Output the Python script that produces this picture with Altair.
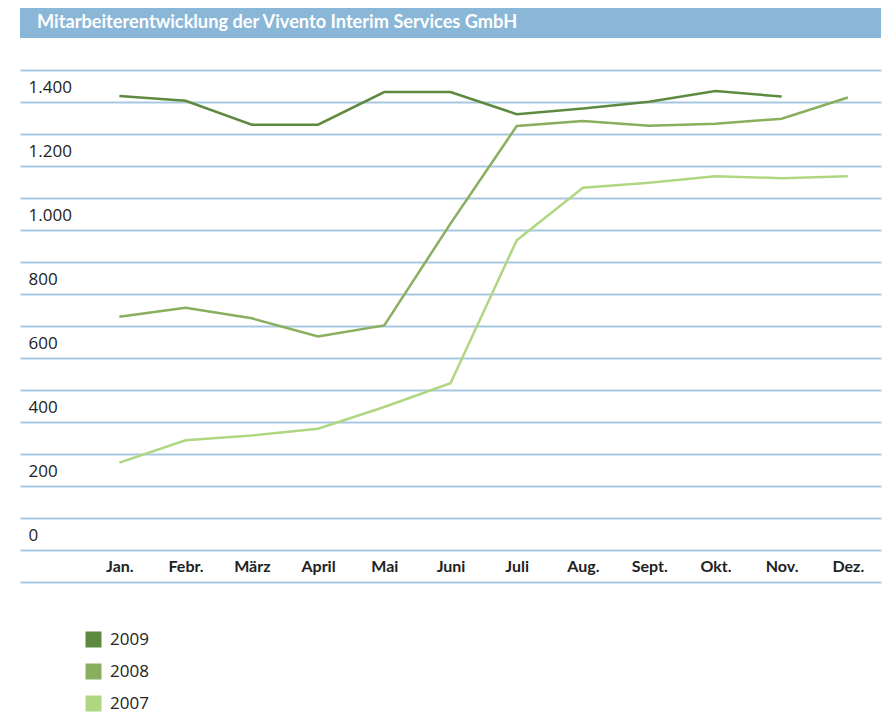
import altair as alt
import pandas as pd

title = "Mitarbeiterentwicklung der Vivento Interim Services GmbH"
months = ["Jan.", "Febr.", "März", "April", "Mai", "Juni", "Juli",
          "Aug.", "Sept.", "Okt.", "Nov.", "Dez."]
years = ["2009", "2008", "2007"]
v2009 = [1419, 1404, 1329, 1329, 1431, 1431, 1362, 1380, 1401, 1434, 1417, None]
v2008 = [729, 757, 724, 667, 702, 1020, 1325, 1341, 1326, 1332, 1348, 1414]
v2007 = [273, 343, 358, 379, 447, 521, 968, 1132, 1148, 1168, 1162, 1168]
colors = ["#5e8a3f", "#89ae5d", "#afd782"]
grid_values = list(range(-100, 1600, 100))

rows = []
for yr, vals in zip(years, [v2009, v2008, v2007]):
    for i, v in enumerate(vals):
        if v is not None:
            rows.append({"year": yr, "idx": i + 1, "month": months[i], "value": v})
df = pd.DataFrame(rows)
df_title = pd.DataFrame({"t": [title]})

W, H = 861, 512
xscale = alt.Scale(domain=[-0.5, len(months) + 0.5], nice=False, zero=False)
yscale = alt.Scale(domain=[-100, 1500], nice=False, zero=False)

y_label_expr = ("datum.value >= 0 && datum.value <= 1400 && datum.value % 200 == 0 ? "
                "replace(format(datum.value, ','), ',', '.') : ''")
month_array = "[" + ",".join("'" + m + "'" for m in months) + "]"
x_label_expr = month_array + "[round(datum.value) - 1]"

lines = alt.Chart(df).mark_line(strokeWidth=2.5).encode(
    x=alt.X("idx:Q", scale=xscale, axis=alt.Axis(
        values=list(range(1, len(months) + 1)), grid=False, labels=True, ticks=False,
        domain=False, title=None, labelExpr=x_label_expr, labelOverlap=False,
        labelPadding=-16, labelBaseline="middle", labelAlign="center",
        labelFont="Lato", labelFontWeight="bold", labelFontSize=16, labelColor="#222222")),
    y=alt.Y("value:Q", scale=yscale, axis=alt.Axis(
        values=grid_values, grid=True, gridColor="#a7c7e2", gridWidth=2,
        domain=False, ticks=False, labelExpr=y_label_expr, labelOverlap=False,
        labelAlign="left", labelPadding=-8, labelOffset=-15, labelBaseline="middle",
        labelFont="Open Sans", labelFontSize=17, labelColor="#222222", title=None)),
    color=alt.Color("year:N", scale=alt.Scale(domain=years, range=colors),
                    legend=alt.Legend(orient="none", legendX=65, legendY=561, title=None,
                                      symbolType="square", symbolSize=64, symbolStrokeWidth=8,
                                      labelFont="Open Sans", labelFontSize=17, labelColor="#222222",
                                      labelOffset=8, rowPadding=-9)),
    order="idx:Q",
)

header_bg = alt.Chart(df_title).mark_rect(color="#8ab6d8").encode(
    x=alt.value(0), x2=alt.value(W), y=alt.value(-62), y2=alt.value(-32))
header_txt = alt.Chart(df_title).mark_text(
    font="Lato", fontWeight="bold", fontSize=18.2, color="#ffffff", align="left", baseline="middle"
).encode(x=alt.value(17), y=alt.value(-47), text="t:N")

chart = alt.layer(header_bg, header_txt, lines).properties(
    width=W, height=H,
    autosize=alt.AutoSizeParams(type="none"),
    padding={"left": 12, "top": 62, "right": 5, "bottom": 130},
).configure_view(stroke=None)

chart.save("out.html", embed_options={"renderer": "svg", "actions": False})
